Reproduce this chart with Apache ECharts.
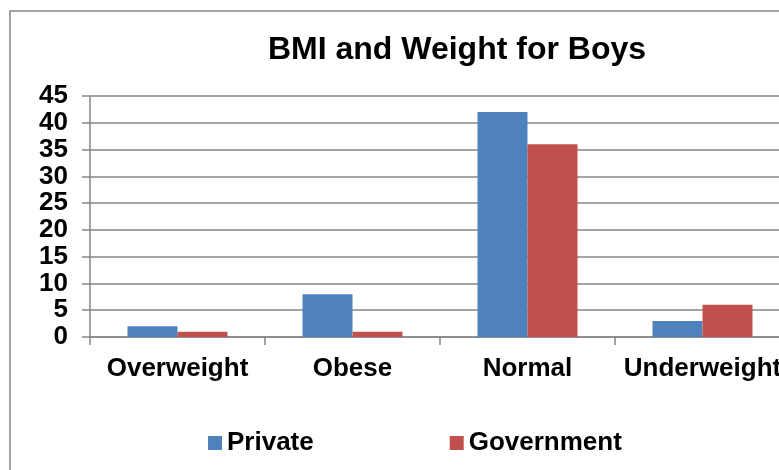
<!DOCTYPE html>
<html lang="en">
<head>
  <meta charset="UTF-8">
  <script src="https://cdn.jsdelivr.net/npm/echarts/dist/echarts.min.js"></script>
  <style>
    html, body { margin: 0; padding: 0; background: #fff; }
    #chart { width: 779px; height: 470px; }
  </style>
</head>
<body>
  <div id="chart"></div>
  <script>
    const categories = ['Overweight', 'Obese', 'Normal', 'Underweight'];
    const privateVals = [2, 8, 42, 3];
    const governmentVals = [1, 1, 36, 6];
    const yTicks = { min: 0, max: 45, interval: 5 };

    const font = 'Liberation Sans, Arial, sans-serif';
    const gray = '#868686';

    const chart = echarts.init(document.getElementById('chart'));
    chart.setOption({
      animation: false,
      title: {
        text: 'BMI and Weight for Boys',
        left: 452,
        textAlign: 'center',
        top: 29,
        textStyle: { fontFamily: font, fontSize: 32, fontWeight: 'bold', color: '#000' }
      },
      graphic: [{
        type: 'rect',
        shape: { x: 10, y: 11, width: 800, height: 500 },
        style: { fill: 'none', stroke: gray, lineWidth: 1.5 },
        silent: true
      }],
      legend: {
        top: 430,
        left: 208,
        padding: 0,
        itemWidth: 14,
        itemHeight: 14,
        itemGap: 136,
        icon: 'rect',
        textStyle: { fontFamily: font, fontSize: 26, fontWeight: 'bold', color: '#000', padding: [0, 0, 0, 0] },
        data: ['Private', 'Government']
      },
      grid: { left: 90, top: 96, width: 700, height: 241, containLabel: false, outerBoundsMode: 'none' },
      xAxis: {
        type: 'category',
        data: categories,
        axisLine: { lineStyle: { color: gray, width: 1.5 } },
        axisTick: { show: true, interval: 0, length: 8, lineStyle: { color: gray, width: 1.5 } },
        axisLabel: { interval: 0, hideOverlap: false, margin: 19, fontFamily: font, fontSize: 26, fontWeight: 'bold', color: '#000' }
      },
      yAxis: {
        type: 'value',
        min: yTicks.min,
        max: yTicks.max,
        interval: yTicks.interval,
        axisLine: { show: true, lineStyle: { color: gray, width: 1.5 } },
        axisTick: { show: true, length: 8, lineStyle: { color: gray, width: 1.5 } },
        splitLine: { lineStyle: { color: gray, width: 1.5 } },
        axisLabel: { margin: 22, fontFamily: font, fontSize: 26, fontWeight: 'bold', color: '#000' }
      },
      series: [
        { name: 'Private', type: 'bar', data: privateVals, barWidth: 50, barGap: '0%', itemStyle: { color: '#4F81BD' } },
        { name: 'Government', type: 'bar', data: governmentVals, barWidth: 50, barGap: '0%', itemStyle: { color: '#C0504D' } }
      ]
    });
  </script>
</body>
</html>
